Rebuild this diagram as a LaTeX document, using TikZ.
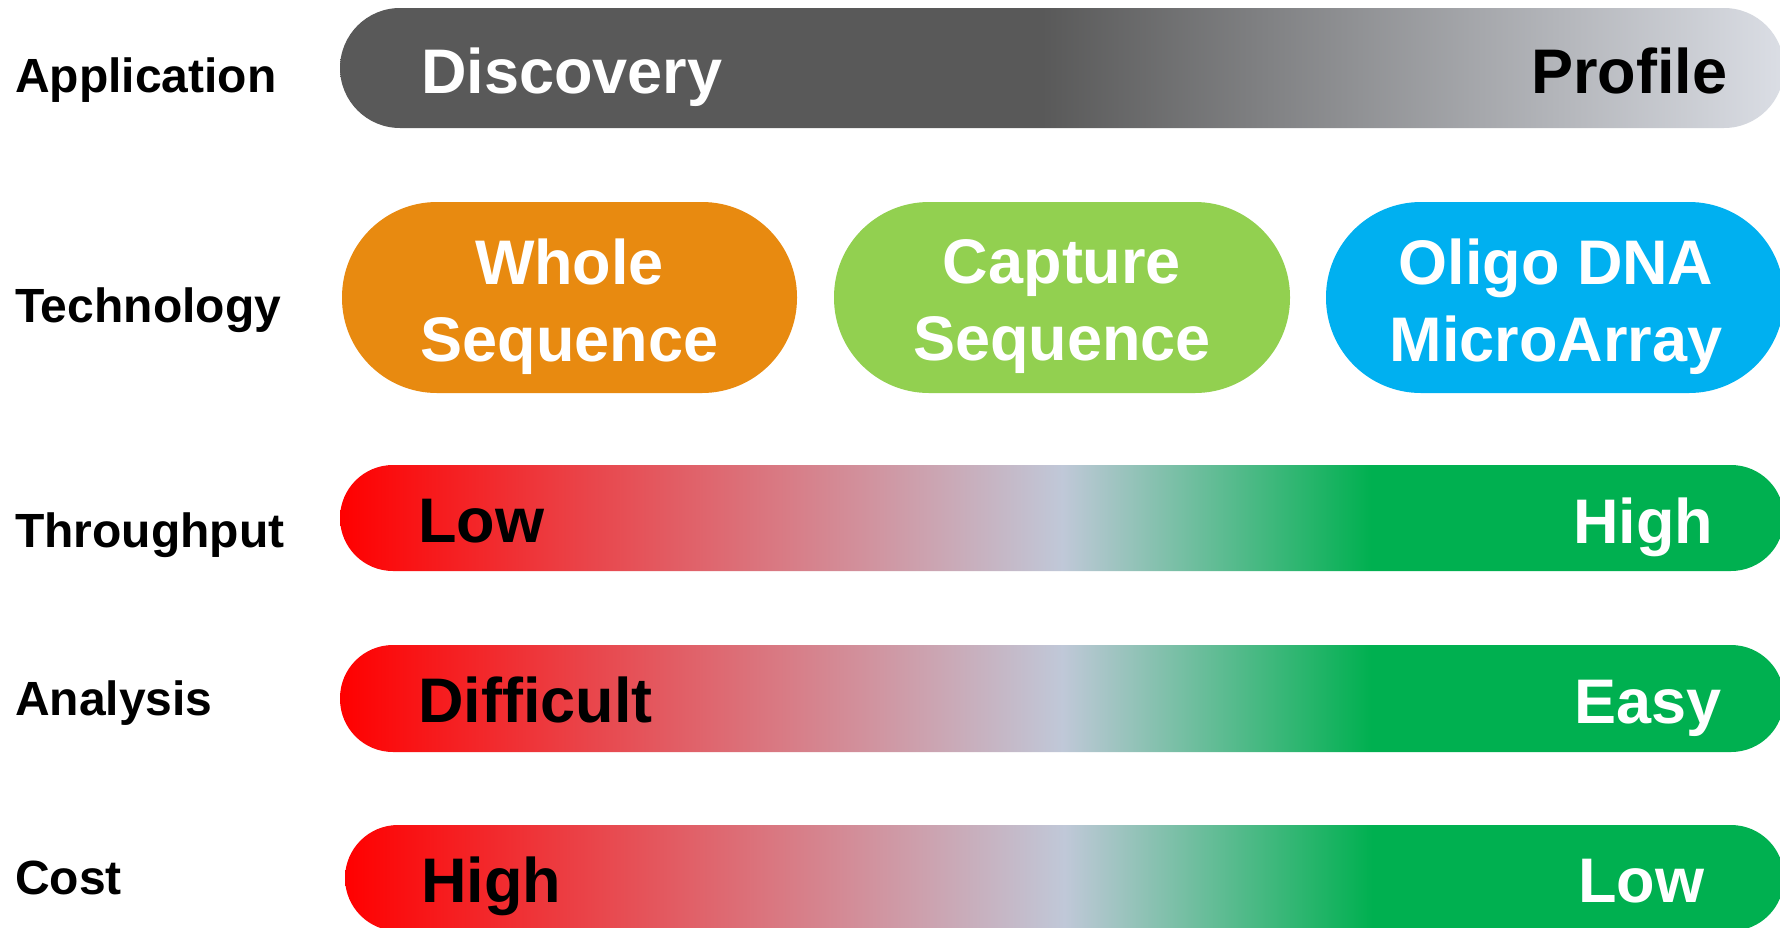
\documentclass[tikz,border=0pt]{standalone}
\usepackage{fontspec}
\setmainfont{Liberation Sans}
\definecolor{appdark}{HTML}{595959}
\definecolor{applight}{HTML}{DBDEE5}
\definecolor{rred}{HTML}{FF0000}
\definecolor{rgray}{HTML}{C0C8D8}
\definecolor{rgreen}{HTML}{00B050}
\definecolor{worange}{HTML}{E88A10}
\definecolor{cgreen}{HTML}{92D050}
\definecolor{oblue}{HTML}{00B0F0}
\pgfdeclarehorizontalshading{appshade}{100bp}{color(0bp)=(appdark); color(25bp)=(appdark); color(49.3bp)=(appdark); color(75bp)=(applight); color(100bp)=(applight)}
\pgfdeclarehorizontalshading{rgshade}{100bp}{color(0bp)=(rred); color(25bp)=(rred); color(50bp)=(rgray); color(60.7bp)=(rgreen); color(100bp)=(rgreen)}
\begin{document}
\begin{tikzpicture}[x=1pt,y=-1pt,
  lbl/.style={anchor=base west,inner sep=0pt,font=\fontsize{48}{57}\selectfont\bfseries},
  big/.style={anchor=base west,inner sep=0pt,font=\fontsize{63}{76}\selectfont\bfseries},
  bubtext/.style={anchor=center,inner sep=0pt,align=center,text=white,font=\fontsize{63}{77}\selectfont\bfseries},
  bubble/.style={rounded corners=95pt}]
\useasboundingbox (0,0) rectangle (1780,927);
\fill[white] (0,0) rectangle (1780,927);
% bars
\shade[shading=appshade, rounded corners=60pt] (340,8) rectangle (1784,128);
\shade[shading=rgshade, rounded corners=53pt] (340,465) rectangle (1784,571);
\shade[shading=rgshade, rounded corners=53pt] (340,645) rectangle (1784,752);
\shade[shading=rgshade, rounded corners=53pt] (345,825) rectangle (1784,931);
% bubbles
\fill[worange, bubble] (342,202) rectangle (797,393);
\fill[cgreen, bubble] (834,202) rectangle (1290,393);
\fill[oblue, bubble] (1326,202) rectangle (1784,393);
% row labels
\node[lbl] (lapp) at (15,92) {Application};
\node[lbl] (ltech) at (15,322) {Technology};
\node[lbl] (lthr) at (15,547) {Throughput};
\node[lbl] (lana) at (15,715) {Analysis};
\node[lbl] (lcost) at (15,894) {Cost};
% bar texts
\node[big, text=white] (tdisc) at (421,93) {Discovery};
\node[big, text=black] (tprof) at (1531,93) {Profile};
\node[big, text=black] (tlow) at (418,542) {Low};
\node[big, text=white] (thigh) at (1573,543) {High};
\node[big, text=black] (tdiff) at (418,722) {Difficult};
\node[big, text=white] (teasy) at (1574,723) {Easy};
\node[big, text=black] (chigh) at (421,902) {High};
\node[big, text=white] (clow) at (1578,902) {Low};
% bubble texts
\node[bubtext] (bwhole) at (569.5,306.5) {Whole\\Sequence};
\node[bubtext] (bcap) at (1062,306.5) {Capture\\Sequence};
\node[bubtext] (boligo) at (1556,306.5) {Oligo DNA\\MicroArray};
\end{tikzpicture}
\end{document}
